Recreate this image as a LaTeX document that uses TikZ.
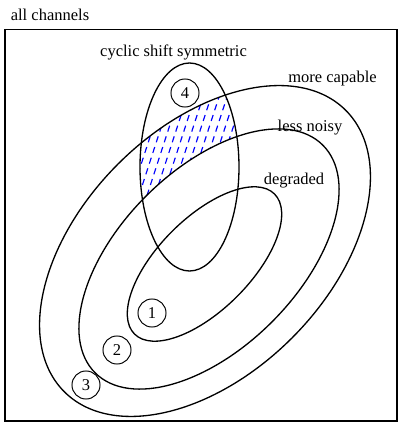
\documentclass[tikz,border=0pt]{standalone}
\usepackage{fontspec}
\setmainfont{Liberation Serif}
\usepackage{tikz}
\usetikzlibrary{positioning}
\usepackage{xcolor}
\definecolor{hatchblue}{HTML}{0000FF}

\begin{document}
\begin{tikzpicture}[
    x=2.13mm, y=2.13mm,
    every node/.style={font=\normalsize},
    frameLine/.style={line width=1.2pt, draw=black},
    setLine/.style={line width=0.8pt, draw=black},
    numberBadge/.style={circle, draw=black, line width=0.6pt, minimum size=17pt, inner sep=0.5pt},
    hatchLine/.style={draw=hatchblue, line width=0.7pt, dash pattern=on 3.8pt off 3pt}
]
    \useasboundingbox (0, 0) rectangle (39.8, 42.2);

    % Riquadro di tutti i canali
    \draw[frameLine] (0.5, 0.1) rectangle (39.7, 39.25);
    \node[anchor=west] (allLabel) at (0.5, 40.7) {all channels};

    % Zona tratteggiata: cyclic shift symmetric, more capable, non less noisy
    \begin{scope}[even odd rule]
        \clip (18.95, 25.5) ellipse [x radius=4.95, y radius=10.4];
        \clip (20.5, 17.1) ellipse [x radius=19.9, y radius=12.3, rotate=45];
        \clip (0, 0) rectangle (39.8, 42.2)
            (20.9, 16.3) ellipse [x radius=16.1, y radius=8.9, rotate=45];
        \foreach \xs in {6.0, 6.8, ..., 24.5} {
            \draw[hatchLine] (\xs, 20.5) -- ++(3.9, 12);
        }
    \end{scope}

    % Insiemi annidati
    \draw[setLine] (20.5, 17.1) ellipse [x radius=19.9, y radius=12.3, rotate=45];
    \draw[setLine] (20.9, 16.3) ellipse [x radius=16.1, y radius=8.9, rotate=45];
    \draw[setLine] (20.45, 15.8) ellipse [x radius=9.9, y radius=4.6, rotate=45];

    % Insieme cyclic shift symmetric
    \draw[setLine] (18.95, 25.5) ellipse [x radius=4.95, y radius=10.4];

    % Etichette degli insiemi
    \node (cyclicLabel) at (17.35, 37.0) {cyclic shift symmetric};
    \node (capableLabel) at (33.25, 34.3) {more capable};
    \node (noisyLabel) at (31.0, 29.4) {less noisy};
    \node (degradedLabel) at (29.4, 24.1) {degraded};

    % Numeri cerchiati
    \node[numberBadge] (regionOne) at (15.2, 10.9) {1};
    \node[numberBadge] (regionTwo) at (11.7, 7.2) {2};
    \node[numberBadge] (regionThree) at (8.6, 3.7) {3};
    \node[numberBadge] (regionFour) at (18.5, 32.9) {4};
\end{tikzpicture}
\end{document}
